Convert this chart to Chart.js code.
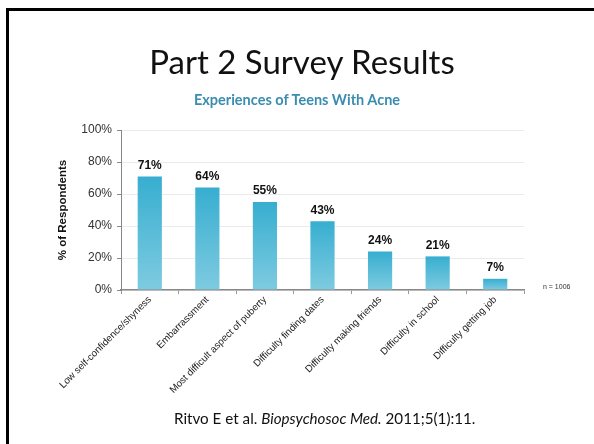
<!DOCTYPE html>
<html>
<head>
<meta charset="utf-8">
<script src="https://cdn.jsdelivr.net/npm/chart.js@4.4.0/dist/chart.umd.min.js"></script>
<style>
    html, body { margin: 0; padding: 0; background: #fff; }
    #slide { position: relative; width: 594px; height: 444px; overflow: hidden; }
    #frame { position: absolute; left: 6px; top: 8px; width: 700px; height: 600px; border: 3px solid #000; box-sizing: border-box; }
    #title { position: absolute; left: 0; width: 604px; top: 41px; text-align: center; font-family: Lato, sans-serif; font-size: 33px; color: #111; }
    #subtitle { position: absolute; left: 0; width: 594px; top: 91px; text-align: center; font-family: Lato, sans-serif; font-weight: bold; font-size: 14.5px; color: #3a8db0; }
    #nlabel { position: absolute; left: 543px; top: 283px; font-family: "Liberation Sans", Arial, sans-serif; font-size: 7px; color: #333; }
    #footer { position: absolute; left: 174px; top: 409px; font-family: Lato, sans-serif; font-size: 15.2px; color: #111; white-space: nowrap; }
    #chart { position: absolute; left: 0; top: 0; }
</style>
</head>
<body>
<div id="slide">
    <canvas id="chart" width="594" height="444"></canvas>
    <div id="frame"></div>
    <div id="title">Part 2 Survey Results</div>
    <div id="subtitle">Experiences of Teens With Acne</div>
    <div id="nlabel">n = 1006</div>
    <div id="footer">Ritvo E et al. <i>Biopsychosoc Med.</i> 2011;5(1):11.</div>
</div>
<script>
// Dữ liệu biểu đồ
var categories = [
    'Low self-confidence/shyness',
    'Embarrassment',
    'Most difficult aspect of puberty',
    'Difficulty finding dates',
    'Difficulty making friends',
    'Difficulty in school',
    'Difficulty getting job'
];
var percentValues = [71, 64, 55, 43, 24, 21, 7];
var yTicks = [0, 20, 40, 60, 80, 100];

// Nhãn giá trị phía trên cột
var valueLabels = {
    id: 'valueLabels',
    afterDatasetsDraw: function(chart) {
        var ctx = chart.ctx;
        var meta = chart.getDatasetMeta(0);
        ctx.save();
        ctx.font = 'bold 12px "Liberation Sans", Arial, sans-serif';
        ctx.fillStyle = '#111';
        ctx.textAlign = 'center';
        ctx.textBaseline = 'bottom';
        meta.data.forEach(function(bar, i) {
            ctx.fillText(percentValues[i] + '%', bar.x, bar.y - 5);
        });
        ctx.restore();
    }
};

// Màu gradient cho từng cột
function barGradient(context) {
    var chart = context.chart;
    var y = chart.scales.y;
    if (!y || context.raw === undefined) return '#4fb8d6';
    var top = y.getPixelForValue(context.raw);
    var bottom = y.getPixelForValue(0);
    if (!isFinite(top) || !isFinite(bottom) || top === bottom) return '#4fb8d6';
    var g = chart.ctx.createLinearGradient(0, top, 0, bottom);
    g.addColorStop(0, '#37aed0');
    g.addColorStop(1, '#7ecbe0');
    return g;
}

new Chart(document.getElementById('chart'), {
    type: 'bar',
    data: {
        labels: categories,
        datasets: [{
            data: percentValues,
            backgroundColor: barGradient,
            barPercentage: 0.84,
            categoryPercentage: 0.5
        }]
    },
    options: {
        responsive: false,
        animation: false,
        layout: { padding: { left: 56, top: 130, right: 70, bottom: 0 } },
        plugins: {
            legend: { display: false },
            tooltip: { enabled: false }
        },
        scales: {
            y: {
                min: 0,
                max: 100,
                afterFit: function(scale) { scale.width = 65; },
                afterBuildTicks: function(scale) {
                    scale.ticks = yTicks.map(function(v) { return { value: v }; });
                },
                ticks: {
                    callback: function(v) { return v + '%'; },
                    font: { family: '"Liberation Sans", Arial, sans-serif', size: 12 },
                    color: '#333',
                    padding: 5
                },
                grid: { color: '#ebebeb', tickColor: '#888', tickLength: 4 },
                border: { color: '#888', width: 1 },
                title: {
                    display: true,
                    text: '% of Respondents',
                    font: { family: '"Liberation Sans", Arial, sans-serif', size: 11.5, weight: 'bold' },
                    color: '#111',
                    padding: { top: 0, bottom: 4 }
                }
            },
            x: {
                afterFit: function(scale) { scale.height = 154; },
                ticks: {
                    minRotation: 45,
                    maxRotation: 45,
                    autoSkip: false,
                    font: { family: '"Liberation Sans", Arial, sans-serif', size: 9.8 },
                    color: '#222',
                    padding: 0
                },
                grid: { drawOnChartArea: false, color: '#999', tickLength: 4, offset: true },
                border: { color: '#888', width: 1.5 }
            }
        }
    },
    plugins: [valueLabels]
});
</script>
</body>
</html>
